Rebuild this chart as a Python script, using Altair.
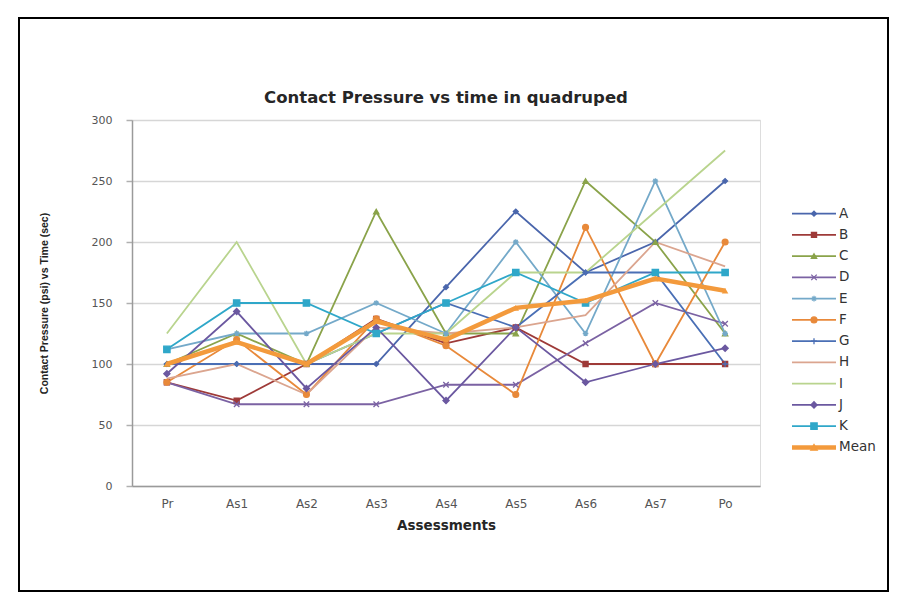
import altair as alt
import pandas as pd

categories = ["Pr", "As1", "As2", "As3", "As4", "As5", "As6", "As7", "Po"]
series_names = ["A", "B", "C", "D", "E", "F", "G", "H", "I", "J", "K", "Mean"]

A = [100, 100, 100, 100, 163, 225, 175, 200, 250]
B = [85, 70, 100, 137, 117, 130, 100, 100, 100]
C = [100, 125, 100, 225, 125, 125, 250, 200, 125]
D = [85, 67, 67, 67, 83, 83, 117, 150, 133]
E = [112, 125, 125, 150, 125, 200, 125, 250, 125]
F = [85, 120, 75, 137, 115, 75, 212, 100, 200]
G = [100, 100, 100, 125, 150, 130, 175, 175, 100]
H = [88, 100, 75, 130, 125, 130, 140, 200, 180]
I = [125, 200, 100, 125, 125, 175, 175, 225, 275]
J = [92, 143, 80, 130, 70, 130, 85, 100, 113]
K = [112, 150, 150, 125, 150, 175, 150, 175, 175]
Mean = [100, 118, 100, 135, 120, 146, 152, 170, 160]

chart_title = "Contact Pressure vs time in quadruped"
y_title = "Contact Pressure (psi) vs Time (sec)"
x_title = "Assessments"

values = {"A": A, "B": B, "C": C, "D": D, "E": E, "F": F, "G": G,
          "H": H, "I": I, "J": J, "K": K, "Mean": Mean}

colors = ["#4a66ac", "#9e3a38", "#8aa34a", "#7b62a3", "#74a9c9", "#e8893a",
          "#4a6fb5", "#dba58f", "#b9d48e", "#6b58a0", "#2fa7c9", "#f39a3c"]

marker_series = ["A", "B", "C", "D", "E", "F", "G", "J", "K", "Mean"]
marker_shapes = [
    "diamond", "square", "triangle-up",
    "M-1,-1L1,1M-1,1L1,-1",
    "M-1,0H1M0,-1V1M-0.7,-0.7L0.7,0.7M-0.7,0.7L0.7,-0.7",
    "circle",
    "M-1,0H1M0,-1V1",
    "diamond", "square", "triangle-up",
]
marker_sizes = [24, 42, 34, 30, 36, 38, 36, 24, 46, 85]

rows = []
for s in series_names:
    for c, v in zip(categories, values[s]):
        rows.append({"series": s, "cat": c, "value": v})
df = pd.DataFrame(rows)
legend_df = pd.DataFrame({"series": series_names})
frame_df = pd.DataFrame({"label": [chart_title]})

FONT = "DejaVu Sans"

color_scale = alt.Scale(domain=series_names, range=colors)
color_enc = alt.Color("series:N", scale=color_scale, legend=None)
stroke_enc = alt.Stroke("series:N", scale=color_scale, legend=None)
shape_enc = alt.Shape("series:N", scale=alt.Scale(domain=marker_series, range=marker_shapes), legend=None)
size_enc = alt.Size("series:N", scale=alt.Scale(domain=marker_series, range=marker_sizes), legend=None)

x_enc = alt.X(
    "cat:N", sort=categories,
    scale=alt.Scale(type="point", padding=0.5),
    axis=alt.Axis(
        labelAngle=0, ticks=False, grid=False,
        domainColor="#9a9a9a", domainWidth=1.5,
        labelFont=FONT, labelFontSize=12, labelColor="#555555", labelPadding=12,
        title=x_title, titleFont=FONT, titleFontSize=13.5,
        titleFontWeight="bold", titleColor="#262626", titlePadding=9,
    ),
)
y_enc = alt.Y(
    "value:Q",
    scale=alt.Scale(domain=[0, 300], nice=False, zero=True),
    axis=alt.Axis(
        values=[0, 50, 100, 150, 200, 250, 300],
        grid=True, gridColor="#d6d6d6", gridWidth=1.7,
        domainColor="#9a9a9a", domainWidth=1.5,
        tickColor="#b0b0b0", tickSize=6, tickWidth=1.5,
        labelFont=FONT, labelFontSize=11, labelColor="#555555", labelPadding=14,
        title=y_title,
        titleFont="Liberation Sans", titleFontSize=10.5, titleFontWeight="bold",
        titleColor="#222222", titleAngle=270, titleX=-88, titleY=183,
        titleAlign="center", titleBaseline="middle",
    ),
)

base = alt.Chart(df)

lines = base.transform_filter(alt.datum.series != "Mean").mark_line(strokeWidth=1.8).encode(
    x=x_enc, y=y_enc, color=color_enc, detail="series:N"
)
points = base.transform_filter(
    alt.FieldOneOfPredicate(field="series", oneOf=marker_series[:-1])
).mark_point(filled=True, strokeWidth=1.3, opacity=1).encode(
    x=x_enc, y=y_enc, color=color_enc, stroke=stroke_enc, shape=shape_enc, size=size_enc
)
mean_line = base.transform_filter(alt.datum.series == "Mean").mark_line(strokeWidth=4.5).encode(
    x=x_enc, y=y_enc, color=color_enc
)
mean_points = base.transform_filter(alt.datum.series == "Mean").mark_point(
    filled=True, opacity=1
).encode(x=x_enc, y=y_enc, color=color_enc, shape=shape_enc, size=size_enc)

main = alt.layer(lines, points, mean_line, mean_points)

ly = alt.Y("series:N", scale=alt.Scale(type="point", domain=series_names, range=[83, 338]), axis=None)
lbase = alt.Chart(legend_df)
leg_rules = lbase.transform_filter(alt.datum.series != "Mean").mark_rule(strokeWidth=1.8).encode(
    x=alt.value(660), x2=alt.value(704), y=ly, color=color_enc
)
leg_mean_rule = lbase.transform_filter(alt.datum.series == "Mean").mark_rule(strokeWidth=4.5).encode(
    x=alt.value(660), x2=alt.value(704), y=ly, color=color_enc
)
leg_points = lbase.transform_filter(
    alt.FieldOneOfPredicate(field="series", oneOf=marker_series)
).mark_point(filled=True, strokeWidth=1.3, opacity=1).encode(
    x=alt.value(682), y=ly, color=color_enc, stroke=stroke_enc, shape=shape_enc, size=size_enc
)
leg_text = lbase.mark_text(align="left", baseline="middle", font=FONT, fontSize=13.5, color="#333333").encode(
    x=alt.value(707), y=ly, text="series:N"
)
legend = alt.layer(leg_rules, leg_mean_rule, leg_points, leg_text)

fbase = alt.Chart(frame_df)
frame = fbase.mark_rect(fillOpacity=0, stroke="black", strokeWidth=2).encode(
    x=alt.value(-113), x2=alt.value(756), y=alt.value(-102), y2=alt.value(471)
)
title_mark = fbase.mark_text(
    align="center", baseline="middle", font=FONT, fontSize=16.5, fontWeight="bold", color="#262626"
).encode(x=alt.value(314), y=alt.value(-22), text="label:N")

chart = alt.layer(main, legend, frame, title_mark).resolve_scale(y="independent").properties(
    width=628, height=366,
    autosize=alt.AutoSizeParams(type="none"),
    padding={"left": 132, "top": 120, "right": 147, "bottom": 124},
).configure_view(stroke=None).configure(background="white")

chart.save("out.html", embed_options={"renderer": "svg", "actions": False})
